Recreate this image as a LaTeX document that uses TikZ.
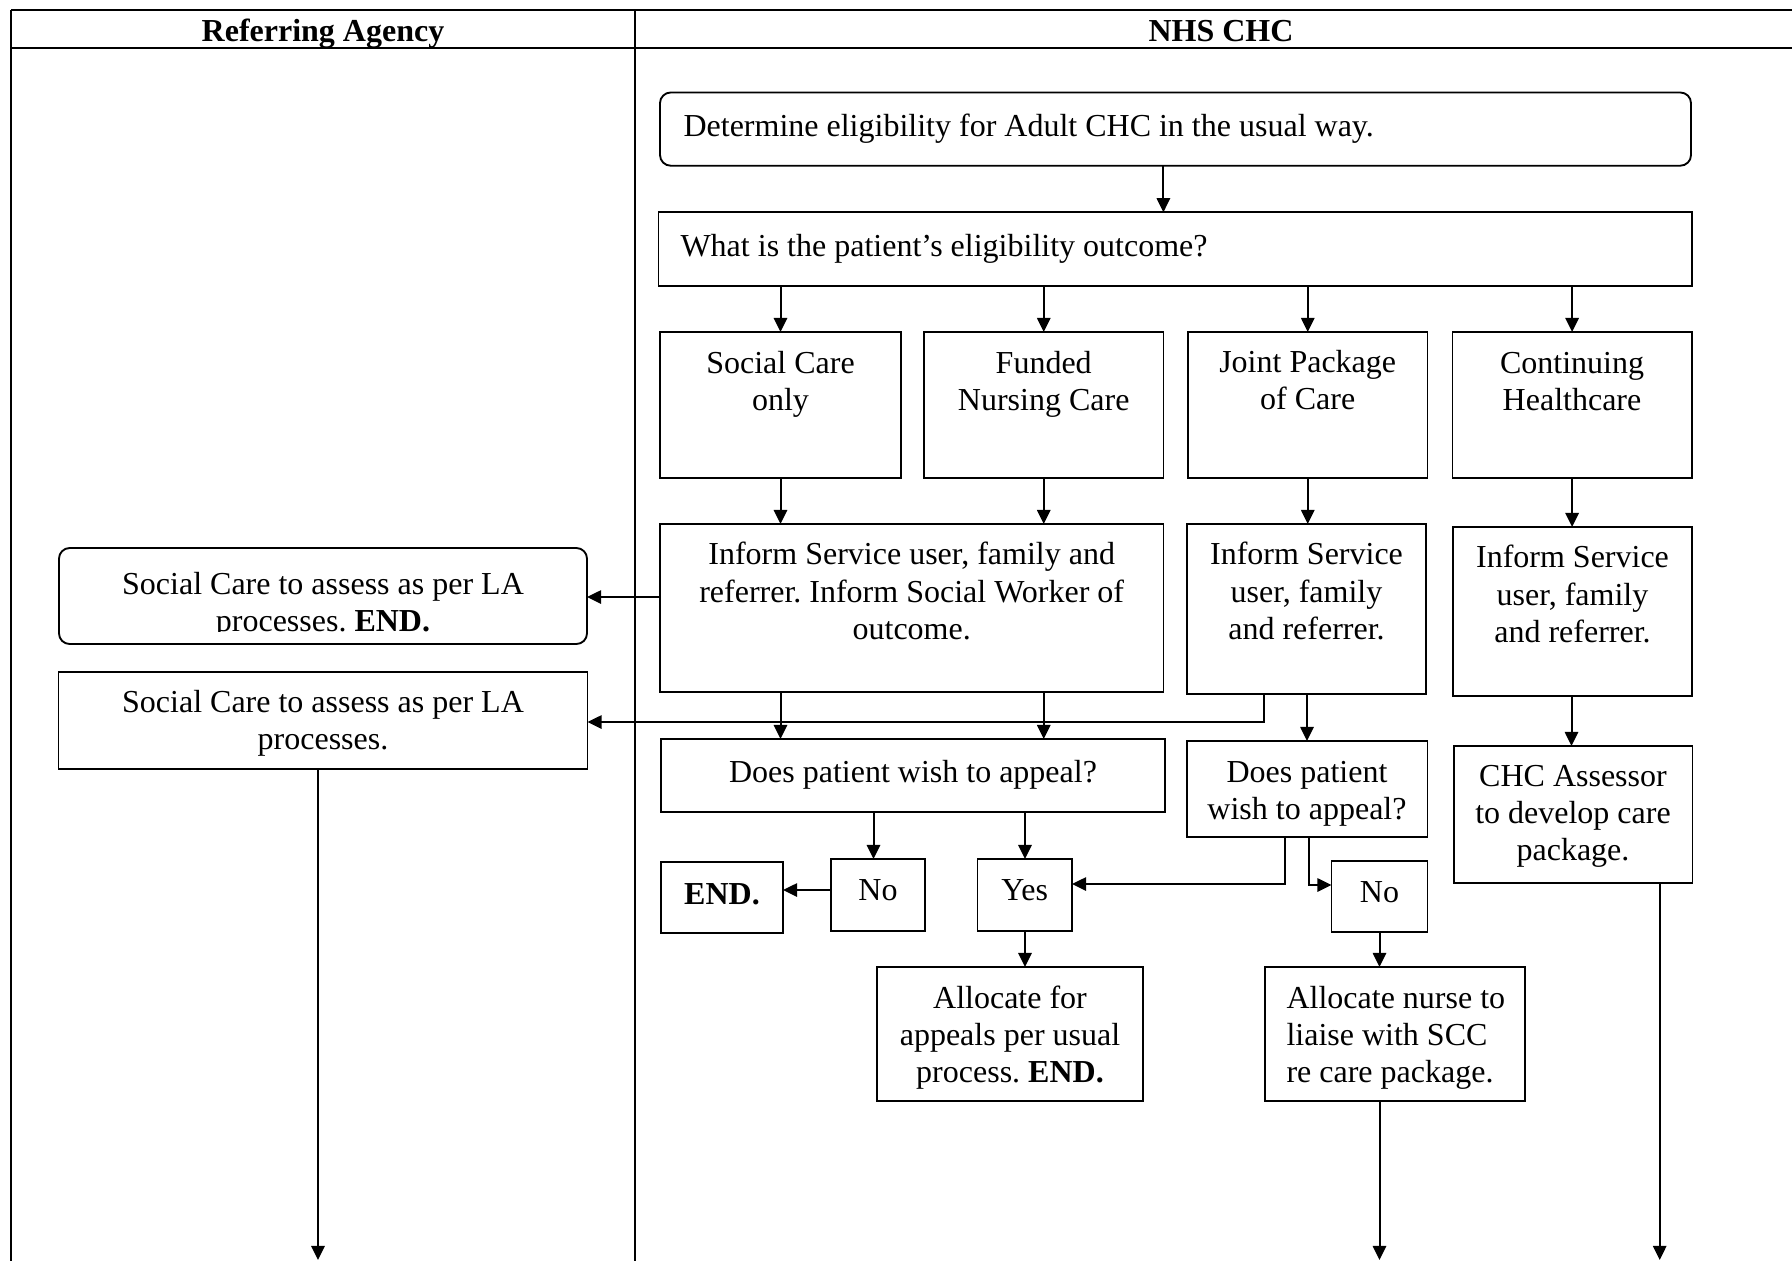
\documentclass[tikz,border=0pt]{standalone}
\usepackage{fontspec}
\setmainfont{Liberation Serif}
\usetikzlibrary{arrows.meta}
\newcommand\mkbox[6]{\node[#1, minimum width={(#4-#2)*0.375pt}, minimum height={(#5-#3)*0.375pt}] (#6) at (#2,#3) {};}
\frenchspacing
\begin{document}
\begin{tikzpicture}[x=0.375pt,y=-0.375pt,
  boxst/.style={draw, line width=0.7pt, inner sep=0pt, outer sep=0pt, anchor=north west},
  rbox/.style={boxst, rounded corners=4pt},
  txt/.style={inner sep=0pt, align=center, font=\fontsize{12pt}{13.9pt}\selectfont},
  hdr/.style={inner sep=0pt, font=\fontsize{12pt}{13.9pt}\selectfont\bfseries},
  arr/.style={line width=0.75pt, -{Triangle[length=5.3pt,width=5pt]}},
  gridln/.style={line width=0.6pt},
  gridth/.style={line width=0.8pt}]
\useasboundingbox (0,0) rectangle (1792,1261);
% table
\draw[gridth] (11,10) -- (1792,10);
\draw[gridth] (11,48) -- (1792,48);
\draw[gridln] (11,10) -- (11,1261);
\draw[gridln] (635,10) -- (635,1261);
\node[hdr] (h1) at (323,33.5) {Referring Agency};
\node[hdr] (h2) at (1221,31.5) {NHS CHC};
% boxes
\mkbox{rbox}{660}{92.5}{1691}{165.7}{A}
\node[txt, anchor=west] (tA) at (683,129) {Determine eligibility for Adult CHC in the usual way.};
\mkbox{boxst}{658.5}{212.3}{1692}{285.7}{B}
\node[txt, anchor=west] (tB) at (680,249) {What is the patient’s eligibility outcome?};
\mkbox{boxst}{660}{332}{901}{478}{C1}
\node[txt] (tC1) at (780.5,384) {Social Care\\only};
\mkbox{boxst}{924}{332}{1163.5}{478}{C2}
\node[txt] (tC2) at (1043.7,384) {Funded\\Nursing Care};
\mkbox{boxst}{1188}{332}{1427.5}{478}{C3}
\node[txt] (tC3) at (1307.7,380.5) {Joint Package\\of Care};
\mkbox{boxst}{1452.5}{332}{1691.7}{478}{C4}
\node[txt] (tC4) at (1572,381.5) {Continuing\\Healthcare};
\mkbox{boxst}{660}{524}{1163.5}{692}{D1}
\node[txt] (tD1) at (911.7,591) {Inform Service user, family and\\referrer. Inform Social Worker of\\outcome.};
\mkbox{boxst}{1187}{524}{1426}{694}{D2}
\node[txt] (tD2) at (1306.5,591) {Inform Service\\user, family\\and referrer.};
\mkbox{boxst}{1453}{527}{1692}{696}{D3}
\node[txt] (tD3) at (1572.5,594) {Inform Service\\user, family\\and referrer.};
\mkbox{rbox}{59}{548}{587}{644}{L1}
\begin{scope}
\clip (59,548) rectangle (587,631);
\node[txt] (tL1) at (323,605) {Social Care to assess as per LA\\processes. \textbf{END.}};
\end{scope}
\mkbox{boxst}{58.5}{672}{587.5}{769}{L2}
\node[txt] (tL2) at (323,723) {Social Care to assess as per LA\\processes.};
\mkbox{boxst}{661}{739}{1165}{812}{E1}
\node[txt] (tE1) at (913,774.5) {Does patient wish to appeal?};
\mkbox{boxst}{1187}{741}{1427.5}{837}{E2}
\node[txt] (tE2) at (1307,793.5) {Does patient\\wish to appeal?};
\mkbox{boxst}{1454}{746}{1692.5}{883}{F}
\node[txt] (tF) at (1573,816) {CHC Assessor\\to develop care\\package.};
\mkbox{boxst}{831}{859}{925}{931}{No1}
\node[txt] (tNo1) at (878,890) {No};
\mkbox{boxst}{661}{862}{783}{933}{End}
\node[txt] (tEnd) at (722,894) {\textbf{END.}};
\mkbox{boxst}{977.5}{859}{1072}{931}{Yes}
\node[txt] (tYes) at (1024.7,890) {Yes};
\mkbox{boxst}{1331.5}{861}{1427.5}{932}{No2}
\node[txt] (tNo2) at (1379.5,892) {No};
\mkbox{boxst}{877}{967}{1143}{1101}{Al1}
\node[txt] (tAl1) at (1010,1037.5) {Allocate for\\appeals per usual\\process. \textbf{END.}};
\mkbox{boxst}{1264.7}{967}{1524.6}{1101}{Al2}
\node[txt, align=left, anchor=west] (tAl2) at (1286,1038) {Allocate nurse to\\liaise with SCC\\re care package.};
% free ends
\coordinate (b1) at (318,1260);
\coordinate (b2) at (1379.5,1260);
\coordinate (b3) at (1659.7,1260);
% connectors
\draw[arr] (A.south -| 1163.4,0) -- (B.north -| 1163.4,0);
\draw[arr] (B.south -| C1.north) -- (C1.north);
\draw[arr] (B.south -| C2.north) -- (C2.north);
\draw[arr] (B.south -| C3.north) -- (C3.north);
\draw[arr] (B.south -| C4.north) -- (C4.north);
\draw[arr] (C1.south) -- (D1.north -| C1.south);
\draw[arr] (C2.south) -- (D1.north -| C2.south);
\draw[arr] (C3.south) -- (D2.north -| C3.south);
\draw[arr] (C4.south) -- (D3.north -| C4.south);
\draw[arr] (D1.west |- 0,597) -- (L1.east |- 0,597);
\draw[arr] (D2.south -| 1264,0) |- (L2.east |- 0,722);
\draw[arr] (D1.south -| C1.south) -- (E1.north -| C1.south);
\draw[arr] (D1.south -| C2.south) -- (E1.north -| C2.south);
\draw[arr] (D2.south -| 1307,0) -- (E2.north -| 1307,0);
\draw[arr] (D3.south -| 1571.5,0) -- (F.north -| 1571.5,0);
\draw[arr] (E1.south -| 873.5,0) -- (No1.north -| 873.5,0);
\draw[arr] (E1.south -| 1025,0) -- (Yes.north -| 1025,0);
\draw[arr] (No1.west |- 0,890) -- (End.east |- 0,890);
\draw[arr] (E2.south -| 1284.6,0) |- (Yes.east |- 0,884);
\draw[arr] (E2.south -| 1308.8,0) |- (No2.west |- 0,885);
\draw[arr] (Yes.south -| 1025,0) -- (Al1.north -| 1025,0);
\draw[arr] (No2.south) -- (Al2.north -| No2.south);
\draw[arr] (L2.south -| b1) -- (b1);
\draw[arr] (Al2.south -| b2) -- (b2);
\draw[arr] (F.south -| b3) -- (b3);
\end{tikzpicture}
\end{document}
